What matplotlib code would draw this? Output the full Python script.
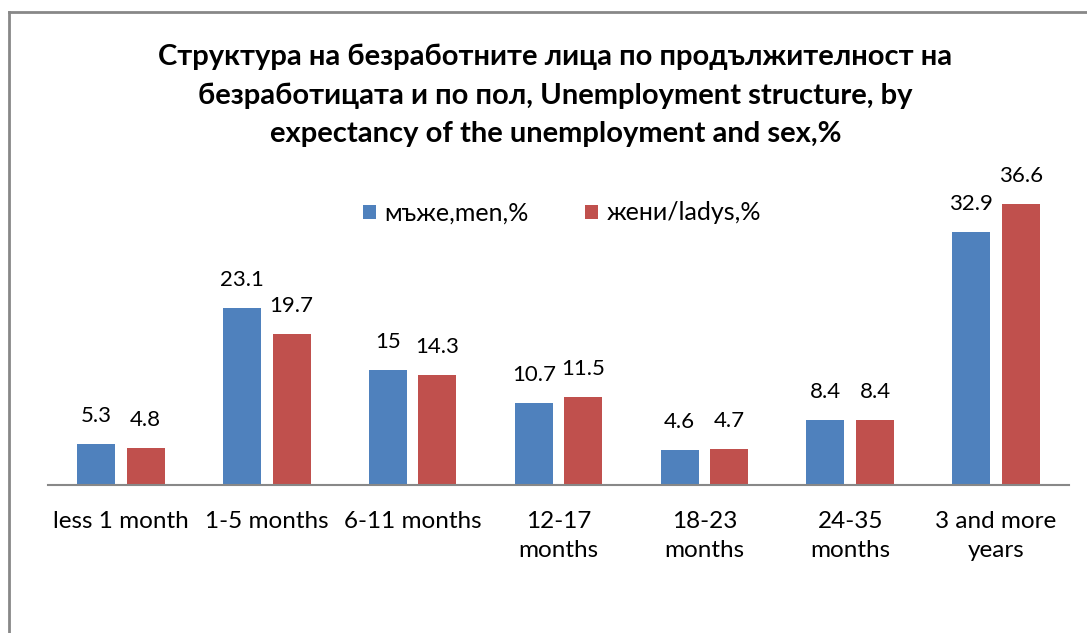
import matplotlib.pyplot as plt
from matplotlib.lines import Line2D
import numpy as np

# data
categories = ['less 1 month', '1-5 months', '6-11 months', '12-17\nmonths',
              '18-23\nmonths', '24-35\nmonths', '3 and more\nyears']
men = [5.3, 23.1, 15, 10.7, 4.6, 8.4, 32.9]
women = [4.8, 19.7, 14.3, 11.5, 4.7, 8.4, 36.6]
men_labels = ['5.3', '23.1', '15', '10.7', '4.6', '8.4', '32.9']
women_labels = ['4.8', '19.7', '14.3', '11.5', '4.7', '8.4', '36.6']

plt.rcParams['font.family'] = ['Lato', 'Noto Sans', 'DejaVu Sans']

fig = plt.figure(figsize=(10.87, 6.33), dpi=100)
ax = fig.add_axes([0.0442, 0.2338, 0.9392, 0.4853])

x = np.arange(len(categories))
w = 0.26
b1 = ax.bar(x - 0.17, men, w, color='#4F81BD', label='мъже,men,%')
b2 = ax.bar(x + 0.17, women, w, color='#C0504D', label='жени/ladys,%')

# value labels above the bars
for bars, labels in [(b1, men_labels), (b2, women_labels)]:
    for rect, t in zip(bars, labels):
        ax.annotate(t, (rect.get_x() + rect.get_width() / 2, rect.get_height()),
                    xytext=(0, 13), textcoords='offset points', ha='center',
                    va='bottom', fontsize=16)

ax.set_xlim(-0.5, len(categories) - 0.5)
ax.set_ylim(0, 40)
ax.set_xticks(x)
ax.set_xticklabels(categories, fontsize=17.5, linespacing=1.45)
ax.tick_params(axis='x', length=0, pad=19)
ax.set_yticks([])
for s in ['top', 'right', 'left']:
    ax.spines[s].set_visible(False)
ax.spines['bottom'].set_color('#888888')
ax.spines['bottom'].set_linewidth(1.5)

fig.text(0.511, 1 - 95 / 633, 'Структура на безработните лица по продължителност на\n'
         'безработицата и по пол, Unemployment structure, by\n'
         'expectancy of the unemployment and sex,%',
         ha='center', va='center', fontsize=21, fontweight='bold',
         linespacing=1.58)

fig.legend(handles=[b1, b2], loc='center', bbox_to_anchor=(0.517, 1 - 213 / 633),
           ncol=2, frameon=False, fontsize=18, handlelength=0.5,
           handleheight=0.5, handletextpad=0.35, columnspacing=2.25)

# chart border
fig.add_artist(Line2D([9 / 1087, 9 / 1087], [0, 1 - 12 / 633], color='#888888', lw=2))
fig.add_artist(Line2D([9 / 1087, 1], [1 - 12 / 633, 1 - 12 / 633], color='#888888', lw=2))

fig.savefig('out.png', dpi=100)
